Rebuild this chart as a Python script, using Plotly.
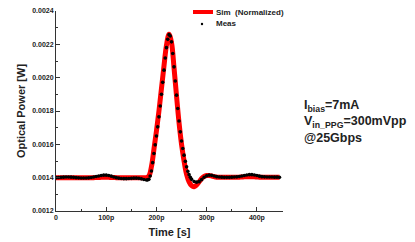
import plotly.graph_objects as go

# measured samples (time in picoseconds): denser sampling read across the pulse
meas_t = (list(range(0, 185, 5))
          + [182.5 + 2.5 * i for i in range(36)]
          + list(range(275, 450, 5)))

meas_w = [
    # 0 .. 180 ps
    0.001400, 0.001401, 0.001402, 0.001403, 0.001404, 0.001404, 0.001403, 0.001402, 0.001400, 0.001399,
    0.001398, 0.001398, 0.001398, 0.001399, 0.001401, 0.001404, 0.001407, 0.001410, 0.001413, 0.001415,
    0.001415, 0.001413, 0.001409, 0.001404, 0.001400, 0.001397, 0.001395, 0.001394, 0.001394, 0.001395,
    0.001396, 0.001397, 0.001397, 0.001396, 0.001393, 0.001389, 0.001386,
    # 182.5 .. 270 ps
    0.001387, 0.001390, 0.001410, 0.001440, 0.001490, 0.001545, 0.001597, 0.001650, 0.001705, 0.001765,
    0.001830, 0.001900, 0.001972, 0.002045, 0.002118, 0.002180, 0.002230, 0.002258, 0.002250, 0.002215,
    0.002145, 0.002065, 0.001980, 0.001895, 0.001815, 0.001740, 0.001675, 0.001620, 0.001575, 0.001535,
    0.001498, 0.001465, 0.001438, 0.001418, 0.001402, 0.001390,
    # 275 .. 445 ps
    0.001377, 0.001373, 0.001376, 0.001388, 0.001402,
    0.001411, 0.001415, 0.001414, 0.001410, 0.001406, 0.001404, 0.001403, 0.001402, 0.001402, 0.001402,
    0.001403, 0.001404, 0.001405, 0.001407, 0.001410, 0.001413, 0.001416, 0.001418, 0.001418, 0.001416,
    0.001413, 0.001409, 0.001406, 0.001405, 0.001404, 0.001404, 0.001404, 0.001403, 0.001403, 0.001402,
]

sim_t = list(range(0, 450, 5))
sim_w = [
    0.001400, 0.001400, 0.001400, 0.001400, 0.001400, 0.001400, 0.001400, 0.001400, 0.001400, 0.001400,
    0.001400, 0.001400, 0.001400, 0.001400, 0.001400, 0.001400, 0.001401, 0.001401, 0.001402, 0.001402,
    0.001402, 0.001402, 0.001401, 0.001401, 0.001400, 0.001400, 0.001399, 0.001399, 0.001399, 0.001399,
    0.001399, 0.001399, 0.001399, 0.001399, 0.001399, 0.001399, 0.001400, 0.001410, 0.001465, 0.001570,
    0.001680, 0.001800, 0.001935, 0.002070, 0.002195, 0.002260, 0.002210, 0.002060, 0.001890, 0.001730,
    0.001600, 0.001500, 0.001420, 0.001375, 0.001352, 0.001346, 0.001356, 0.001375, 0.001395, 0.001408,
    0.001413, 0.001413, 0.001410, 0.001406, 0.001403, 0.001402, 0.001402, 0.001402, 0.001402, 0.001402,
    0.001402, 0.001402, 0.001402, 0.001403, 0.001404, 0.001405, 0.001406, 0.001406, 0.001406, 0.001405,
    0.001404, 0.001403, 0.001402, 0.001402, 0.001402, 0.001402, 0.001402, 0.001402, 0.001402, 0.001402,
]

x_tickvals = [0, 100, 200, 300, 400]
x_ticktext = ["0", "100p", "200p", "300p", "400p"]
y_tickvals = [0.0012, 0.0014, 0.0016, 0.0018, 0.0020, 0.0022, 0.0024]
legend_names = ["Sim  (Normalized)", "Meas"]
note_text = "I<sub>bias</sub>=7mA<br>V<sub>in_PPG</sub>=300mVpp<br>@25Gbps"

FONT = "Arial, Liberation Sans, sans-serif"
TXT = "#222222"

W, H = 415, 242
ML, MR, MT, MB = 56, 132, 11, 31
PW, PH = W - ML - MR, H - MT - MB


def px(xp):
    return (xp - ML) / PW


def py(yp):
    return (H - MB - yp) / PH


fig = go.Figure()
fig.add_trace(go.Scatter(
    x=sim_t, y=sim_w, mode="lines", name=legend_names[0], showlegend=False,
    line=dict(color="#ff0000", width=5, shape="spline"),
))
fig.add_trace(go.Scatter(
    x=meas_t, y=meas_w, mode="markers", name=legend_names[1], showlegend=False,
    marker=dict(color="#000000", size=3.6),
))

# manual legend (paper coordinates)
shapes = [
    dict(type="line", xref="paper", yref="paper", x0=px(193), x1=px(213), y0=py(12), y1=py(12),
         line=dict(color="#ff0000", width=4)),
    dict(type="circle", xref="paper", yref="paper", x0=px(200.8), x1=px(203.2), y0=py(22.8), y1=py(25.2),
         fillcolor="#000000", line=dict(color="#000000", width=0)),
]
annotations = [
    dict(x=px(214), y=py(12), xref="paper", yref="paper", showarrow=False, xanchor="left", yanchor="middle",
         text=legend_names[0], font=dict(family=FONT, size=8, weight="bold", color=TXT)),
    dict(x=px(214), y=py(24), xref="paper", yref="paper", showarrow=False, xanchor="left", yanchor="middle",
         text=legend_names[1], font=dict(family=FONT, size=8, weight="bold", color=TXT)),
    dict(x=px(302), y=py(121), xref="paper", yref="paper", showarrow=False,
         xanchor="left", yanchor="middle", align="left",
         text=note_text,
         font=dict(family=FONT, size=12.5, weight="bold", color=TXT)),
]

fig.update_layout(
    width=W, height=H,
    margin=dict(l=ML, r=MR, t=MT, b=MB, autoexpand=False),
    paper_bgcolor="white", plot_bgcolor="white",
    font=dict(family=FONT, color=TXT),
    showlegend=False,
    shapes=shapes,
    annotations=annotations,
)

fig.update_xaxes(
    range=[0, 452], tickvals=x_tickvals, ticktext=x_ticktext, automargin=False,
    showgrid=False, zeroline=False, showline=True, linecolor="#333333", linewidth=1,
    ticks="inside", ticklen=4, tickcolor="#333333",
    minor=dict(ticks="inside", ticklen=2, dtick=50, tick0=0, tickcolor="#333333"),
    tickfont=dict(family=FONT, size=7, weight="bold", color=TXT),
    title=dict(text="Time [s]", standoff=6,
               font=dict(family=FONT, size=11, weight="bold", color=TXT)),
)
fig.update_yaxes(
    range=[0.0012, 0.0024], tickvals=y_tickvals, tickformat=".4f", automargin=False,
    showgrid=False, zeroline=False, showline=True, linecolor="#333333", linewidth=1,
    ticks="inside", ticklen=4, tickcolor="#333333",
    minor=dict(ticks="inside", ticklen=2, dtick=0.0001, tick0=0.0012, tickcolor="#333333"),
    tickfont=dict(family=FONT, size=7, weight="bold", color=TXT),
    title=dict(text="Optical Power [W]", standoff=4,
               font=dict(family=FONT, size=11, weight="bold", color=TXT)),
)

fig.write_html("out.html", config={"displayModeBar": False},
               post_script="document.body.style.margin='0';document.body.style.padding='0';")
